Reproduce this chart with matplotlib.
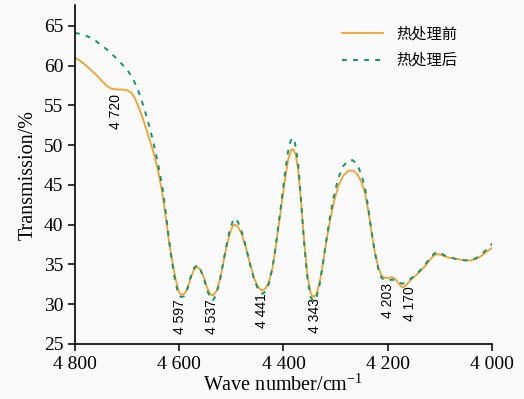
import matplotlib
matplotlib.use("Agg")
import matplotlib.pyplot as plt

# wave number (cm-1) and transmission (%)
wn_before = [4800, 4790, 4780, 4770, 4760, 4750, 4740, 4730, 4720, 4710, 4700, 4692, 4685,
             4678, 4670, 4662, 4655, 4648, 4640, 4632, 4625, 4619, 4613, 4607, 4601, 4597,
             4590, 4584, 4578, 4572, 4566, 4560, 4553, 4546, 4540, 4535, 4528, 4522, 4516,
             4510, 4503, 4497, 4492, 4487, 4480, 4472, 4464, 4456, 4448, 4441, 4434, 4428,
             4421, 4414, 4406, 4398, 4391, 4385, 4382, 4377, 4372, 4366, 4360, 4354, 4348,
             4343, 4337, 4331, 4325, 4318, 4310, 4302, 4294, 4285, 4275, 4266, 4258, 4250,
             4243, 4237, 4231, 4225, 4218, 4212, 4205, 4198, 4192, 4186, 4180, 4174, 4170,
             4165, 4158, 4150, 4140, 4130, 4120, 4112, 4105, 4098, 4090, 4080, 4070, 4060,
             4050, 4040, 4030, 4020, 4010, 4000]
tr_before = [61.0, 60.6, 60.1, 59.5, 58.9, 58.2, 57.5, 57.1, 57.0, 57.0, 56.9, 56.6, 55.9,
             54.8, 53.4, 51.8, 50.3, 48.8, 46.6, 43.8, 40.6, 37.6, 35.3, 33.2, 31.6, 31.2,
             31.3, 32.0, 33.3, 34.3, 34.7, 34.4, 33.4, 32.0, 31.2, 31.1, 31.7, 33.1, 35.0,
             37.0, 38.9, 39.9, 40.0, 39.7, 38.8, 37.1, 35.0, 33.2, 32.1, 31.7, 32.0, 32.8,
             34.6, 37.6, 41.4, 45.3, 48.2, 49.4, 49.5, 48.9, 47.0, 42.6, 37.6, 33.6, 31.4,
             30.9, 31.2, 32.6, 34.8, 37.8, 40.8, 43.2, 45.0, 46.2, 46.8, 46.8, 46.3, 45.3,
             43.8, 41.6, 39.0, 36.6, 34.6, 33.6, 33.3, 33.3, 33.4, 33.2, 32.7, 32.2, 32.1,
             32.4, 32.9, 33.4, 34.0, 34.7, 35.5, 36.1, 36.3, 36.2, 36.0, 35.8, 35.7, 35.6,
             35.5, 35.5, 35.7, 36.1, 36.6, 37.1]

wn_after = [4800, 4790, 4780, 4770, 4760, 4750, 4740, 4730, 4720, 4710, 4700, 4690, 4682,
            4675, 4668, 4660, 4652, 4645, 4638, 4632, 4626, 4620, 4614, 4608, 4602, 4597,
            4591, 4585, 4579, 4572, 4566, 4560, 4553, 4546, 4540, 4535, 4529, 4522, 4516,
            4510, 4503, 4497, 4492, 4487, 4480, 4472, 4464, 4456, 4448, 4441, 4434, 4428,
            4421, 4414, 4406, 4398, 4391, 4386, 4382, 4378, 4372, 4366, 4360, 4354, 4348,
            4343, 4337, 4331, 4325, 4318, 4310, 4302, 4294, 4285, 4275, 4267, 4258, 4250,
            4243, 4237, 4231, 4225, 4218, 4212, 4205, 4198, 4192, 4186, 4180, 4174, 4170,
            4165, 4158, 4150, 4140, 4130, 4120, 4112, 4105, 4098, 4090, 4080, 4070, 4060,
            4050, 4040, 4030, 4020, 4010, 4000]
tr_after = [64.1, 64.0, 63.8, 63.5, 63.1, 62.6, 62.1, 61.5, 60.9, 60.2, 59.5, 58.5, 57.4,
            56.2, 54.8, 53.0, 51.0, 49.0, 46.8, 44.6, 41.6, 38.3, 35.4, 33.0, 31.4, 30.9,
            31.0, 31.8, 33.2, 34.5, 34.9, 34.5, 33.3, 31.7, 30.7, 30.5, 31.2, 33.0, 35.1,
            37.2, 39.3, 40.5, 40.8, 40.3, 39.1, 37.2, 35.0, 33.0, 31.8, 31.3, 31.6, 32.6,
            34.6, 37.7, 41.8, 46.0, 49.3, 50.6, 50.9, 50.3, 47.8, 42.8, 37.4, 33.2, 30.9,
            30.4, 30.8, 32.4, 34.8, 38.0, 41.3, 44.0, 46.0, 47.4, 48.1, 48.1, 47.5, 46.2,
            44.4, 41.9, 39.1, 36.6, 34.4, 33.3, 33.0, 33.0, 33.1, 33.0, 32.8, 32.6, 32.6,
            32.8, 33.1, 33.5, 34.1, 34.8, 35.7, 36.3, 36.6, 36.4, 36.1, 35.9, 35.7, 35.6,
            35.5, 35.6, 35.8, 36.3, 36.9, 37.6]

series_labels = ["热处理前", "热处理后"]

# peak labels: text, x position, top of label
peak_text = ["4 720", "4 597", "4 537", "4 441", "4 343", "4 203", "4 170"]
peak_x = [4722, 4598, 4538, 4441, 4340, 4199, 4157]
peak_top = [56.4, 30.6, 30.6, 31.4, 30.8, 32.7, 32.2]

xticks = [4800, 4600, 4400, 4200, 4000]
xtick_labels = ["4 800", "4 600", "4 400", "4 200", "4 000"]
yticks = [25, 30, 35, 40, 45, 50, 55, 60, 65]

plt.rcParams['font.family'] = ['Liberation Serif', 'DejaVu Serif']
plt.rcParams['mathtext.fontset'] = 'custom'
plt.rcParams['mathtext.rm'] = 'Liberation Serif'

fig = plt.figure(figsize=(5.24, 3.99), dpi=100, facecolor='#fafafa')
ax = fig.add_axes([0.143, 0.138, 0.796, 0.849])
ax.set_facecolor('#fafafa')

ax.plot(wn_before, tr_before, color='#F0A22C', lw=1.3, label=series_labels[0])
ax.plot(wn_after, tr_after, color='#13966A', lw=1.4, linestyle=(0, (2.5, 3.2)),
        label=series_labels[1])

for t, x, y in zip(peak_text, peak_x, peak_top):
    ax.text(x, y, t, rotation=90, ha='center', va='top', fontsize=10,
            family=['Liberation Sans', 'DejaVu Sans'])

ax.set_xlim(4800, 4000)
ax.set_ylim(25, 67.6)
ax.set_xticks(xticks)
ax.set_xticklabels(xtick_labels)
ax.set_yticks(yticks)
ax.tick_params(labelsize=14, direction='out', length=5, width=1.1)

for s in ['top', 'right']:
    ax.spines[s].set_visible(False)
for s in ['left', 'bottom']:
    ax.spines[s].set_linewidth(1.2)

ax.set_xlabel("Wave number/cm$^{\\mathrm{-1}}$", fontsize=14.5, labelpad=1)
ax.set_ylabel("Transmission/%", fontsize=14.5, labelpad=4)

leg = ax.legend(loc='upper left', bbox_to_anchor=(0.64, 0.94), frameon=False,
                prop={'family': ['Noto Sans CJK SC', 'DejaVu Sans'], 'size': 11},
                handlelength=2.7, handletextpad=0.85, labelspacing=0.62,
                borderpad=0, borderaxespad=0)

fig.savefig("out.png", dpi=100, facecolor=fig.get_facecolor())
